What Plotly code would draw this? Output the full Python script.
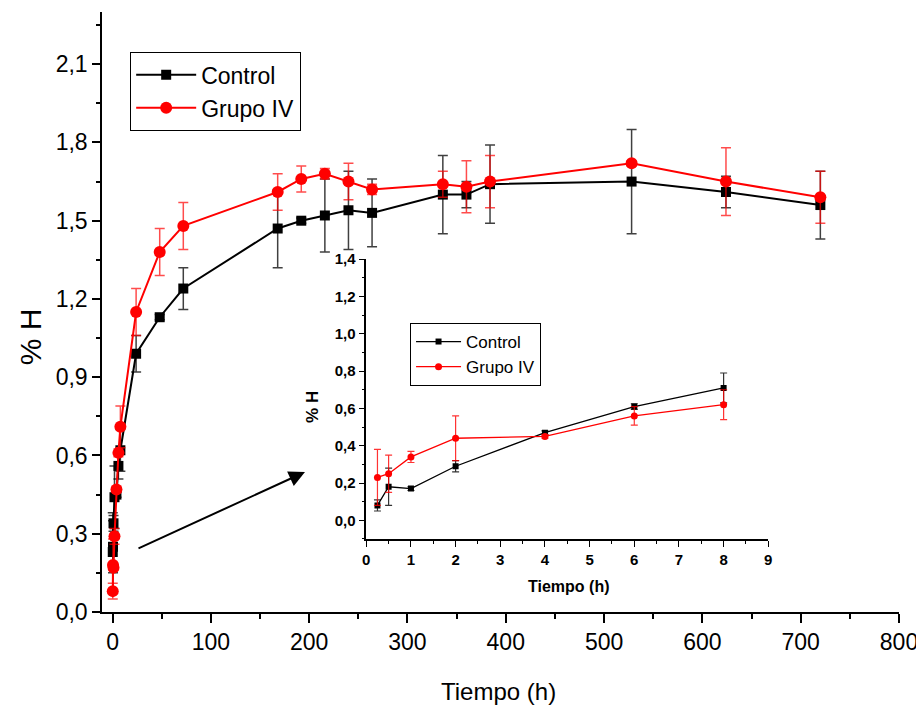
import plotly.graph_objects as go

# ---------------- data ----------------
main_time = [0.25, 0.5, 1, 2, 4, 6, 8, 24, 48, 72, 168, 192, 216, 240, 264, 336, 360, 384, 528, 624, 720]
main_control = [0.23, 0.25, 0.34, 0.44, 0.45, 0.56, 0.62, 0.99, 1.13, 1.24, 1.47, 1.50, 1.52, 1.54, 1.53, 1.60, 1.60, 1.64, 1.65, 1.61, 1.56]
main_control_err = [0.15, 0.10, 0.03, 0.12, 0.01, 0.05, 0.08, 0.07, 0.01, 0.08, 0.15, 0.01, 0.14, 0.15, 0.13, 0.15, 0.05, 0.15, 0.20, 0.06, 0.13]
main_grupo = [0.08, 0.18, 0.17, 0.29, 0.47, 0.61, 0.71, 1.15, 1.38, 1.48, 1.61, 1.66, 1.68, 1.65, 1.62, 1.64, 1.63, 1.65, 1.72, 1.65, 1.59]
main_grupo_err = [0.03, 0.10, 0.01, 0.03, 0.01, 0.015, 0.08, 0.09, 0.09, 0.09, 0.07, 0.05, 0.02, 0.07, 0.02, 0.05, 0.10, 0.10, 0.01, 0.13, 0.10]

inset_time = [0.25, 0.5, 1, 2, 4, 6, 8]
inset_control = [0.08, 0.18, 0.17, 0.29, 0.47, 0.61, 0.71]
inset_control_err = [0.03, 0.10, 0.01, 0.03, 0.01, 0.015, 0.08]
inset_grupo = [0.23, 0.25, 0.34, 0.44, 0.45, 0.56, 0.62]
inset_grupo_err = [0.15, 0.10, 0.03, 0.12, 0.01, 0.05, 0.08]

series_names = ["Control", "Grupo IV"]
x_title = "Tiempo (h)"
y_title = "% H"

FONT = "Liberation Sans, Arial, sans-serif"

fig = go.Figure()

# main traces
fig.add_trace(go.Scatter(
    x=main_time, y=main_control, name=series_names[0], mode="lines+markers",
    line=dict(color="black", width=2),
    marker=dict(symbol="square", size=10, color="black"),
    error_y=dict(type="data", array=main_control_err, visible=True,
                 color="rgba(0,0,0,0.75)", thickness=1.5, width=5),
    legend="legend", cliponaxis=False,
))
fig.add_trace(go.Scatter(
    x=main_time, y=main_grupo, name=series_names[1], mode="lines+markers",
    line=dict(color="#ff0000", width=2),
    marker=dict(symbol="circle", size=12, color="#ff0000"),
    error_y=dict(type="data", array=main_grupo_err, visible=True,
                 color="rgba(255,0,0,0.7)", thickness=1.5, width=5),
    legend="legend", cliponaxis=False,
))

# inset traces
fig.add_trace(go.Scatter(
    x=inset_time, y=inset_control, name=series_names[0], mode="lines+markers",
    xaxis="x2", yaxis="y2",
    line=dict(color="black", width=1.3),
    marker=dict(symbol="square", size=6, color="black"),
    error_y=dict(type="data", array=inset_control_err, visible=True,
                 color="rgba(0,0,0,0.8)", thickness=1.2, width=3.5),
    legend="legend2",
))
fig.add_trace(go.Scatter(
    x=inset_time, y=inset_grupo, name=series_names[1], mode="lines+markers",
    xaxis="x2", yaxis="y2",
    line=dict(color="#ff0000", width=1.3),
    marker=dict(symbol="circle", size=7, color="#ff0000"),
    error_y=dict(type="data", array=inset_grupo_err, visible=True,
                 color="rgba(255,0,0,0.8)", thickness=1.2, width=3.5),
    legend="legend2",
))

axis_common = dict(showline=True, linecolor="black", linewidth=1.5, showgrid=False,
                   zeroline=False, ticks="outside", tickcolor="black", mirror=False,
                   automargin=False)

fig.update_layout(
    width=916, height=700,
    margin=dict(l=94, r=25, t=4, b=96, autoexpand=False),
    paper_bgcolor="white", plot_bgcolor="rgba(0,0,0,0)",
    separators=",.",
    font=dict(family=FONT, color="black"),
    xaxis=dict(**axis_common, range=[-10.7, 800], tick0=0, dtick=100, ticklen=9, tickwidth=1.5,
               tickfont=dict(size=23), domain=[0, 1],
               minor=dict(ticks="outside", dtick=50, ticklen=5, tickwidth=1.5, tickcolor="black")),
    yaxis=dict(**axis_common, range=[0, 2.3], tick0=0, dtick=0.3, ticklen=8, tickwidth=1.5,
               tickformat=".1f", tickfont=dict(size=23), domain=[0, 1],
               minor=dict(ticks="outside", dtick=0.15, ticklen=4, tickwidth=1.5, tickcolor="black")),
    xaxis2=dict(**axis_common, domain=[0.3316, 0.836], anchor="y2", range=[0, 9], tick0=0, dtick=1,
                ticklen=6, tickwidth=1.2,
                tickfont=dict(size=15, weight="bold"),
                minor=dict(ticks="outside", dtick=0.5, ticklen=3, tickwidth=1.2, tickcolor="black")),
    yaxis2=dict(**axis_common, domain=[0.1217, 0.588], anchor="x2", range=[-0.1, 1.4], tick0=0, dtick=0.2,
                ticklen=6, tickwidth=1.2, tickformat=".1f",
                tickfont=dict(size=15, weight="bold"),
                minor=dict(ticks="outside", dtick=0.1, ticklen=3, tickwidth=1.2, tickcolor="black")),
    legend=dict(x=0.0351, y=0.933, xanchor="left", yanchor="top", bgcolor="white",
                bordercolor="black", borderwidth=1.2, font=dict(size=23), itemwidth=60,
                tracegroupgap=0, traceorder="normal"),
    legend2=dict(x=0.3865, y=0.4817, xanchor="left", yanchor="top", bgcolor="white",
                 bordercolor="black", borderwidth=1, font=dict(size=17), itemwidth=45,
                 tracegroupgap=0, traceorder="normal"),
    annotations=[
        dict(text=x_title, x=0.4969, y=-0.1333, xref="paper", yref="paper",
             xanchor="center", yanchor="middle", showarrow=False, font=dict(size=24)),
        dict(text=y_title, x=-0.0903, y=0.458, xref="paper", yref="paper", textangle=-90,
             xanchor="center", yanchor="middle", showarrow=False, font=dict(size=30)),
        dict(text="<b>" + x_title + "</b>", x=0.5847, y=0.0417, xref="paper", yref="paper",
             xanchor="center", yanchor="middle", showarrow=False, font=dict(size=16)),
        dict(text="<b>" + y_title + "</b>", x=0.2647, y=0.3417, xref="paper", yref="paper", textangle=-90,
             xanchor="center", yanchor="middle", showarrow=False, font=dict(size=17)),
        dict(text="", x=0.2547, y=0.2333, xref="paper", yref="paper",
             showarrow=True, ax=-168, ay=77, axref="pixel", ayref="pixel",
             arrowhead=2, arrowsize=1.6, arrowwidth=2, arrowcolor="black"),
    ],
)

fig.write_html("out.html")
